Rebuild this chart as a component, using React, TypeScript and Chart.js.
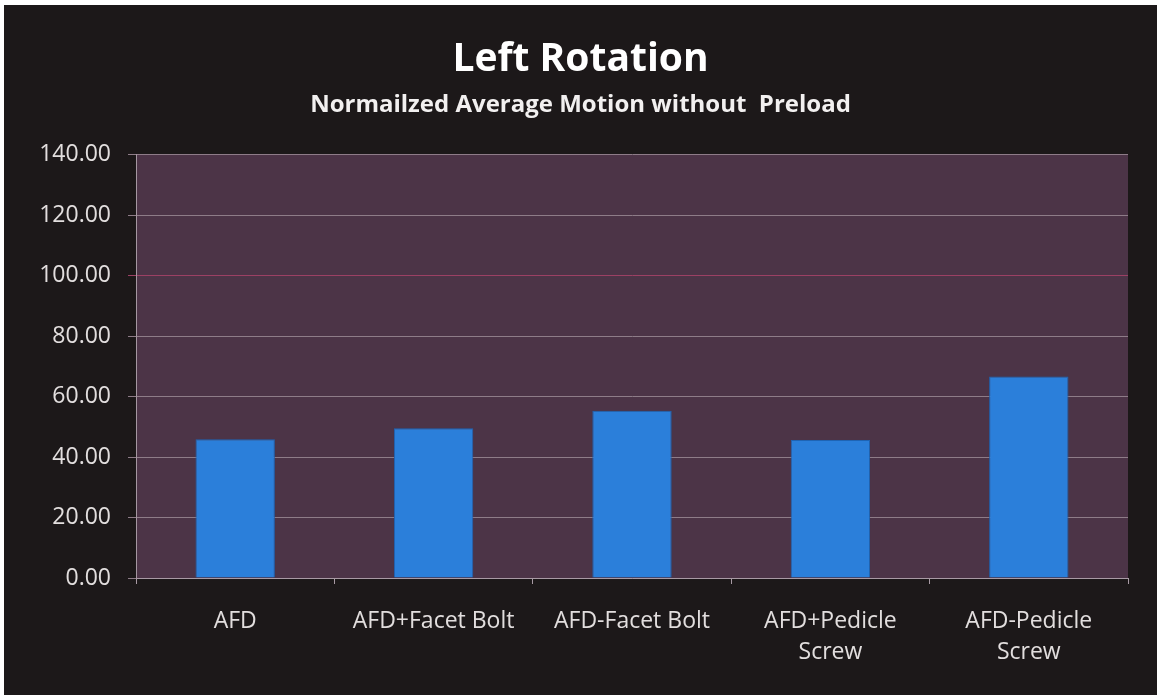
import React, { useEffect, useRef } from "react";
import { Chart, registerables } from "chart.js";

Chart.register(...registerables);

const titleText = "Left Rotation";
const subtitleText = "Normailzed Average Motion without  Preload";
const categories: (string | string[])[] = [
  "AFD",
  "AFD+Facet Bolt",
  "AFD-Facet Bolt",
  ["AFD+Pedicle", "Screw"],
  ["AFD-Pedicle", "Screw"],
];
const values = [45.9, 49.5, 55.3, 45.6, 66.6];
const yMin = 0;
const yMax = 140;
const yStep = 20;

const bgPlugin = {
  id: "bgPlugin",
  beforeDraw(chart: any) {
    const { ctx, chartArea, width, height } = chart;
    ctx.save();
    ctx.fillStyle = "#1c1819";
    ctx.fillRect(0, 0, width, height);
    ctx.fillStyle = "#4c3447";
    ctx.fillRect(chartArea.left, chartArea.top, chartArea.right - chartArea.left, chartArea.bottom - chartArea.top);
    ctx.restore();
  },
};

export default function App() {
  const ref = useRef<HTMLCanvasElement>(null);
  useEffect(() => {
    document.body.style.margin = "0";
    const chart = new Chart(ref.current!, {
      type: "bar",
      data: {
        labels: categories,
        datasets: [
          {
            data: values,
            backgroundColor: "#2b7fda",
            borderColor: "#1e64b4",
            borderWidth: 1,
            barPercentage: 0.4,
            categoryPercentage: 1,
          },
        ],
      },
      options: {
        animation: false,
        responsive: false,
        layout: { padding: { left: 29, right: 29, top: 0, bottom: 0 } },
        plugins: {
          legend: { display: false },
          tooltip: { enabled: false },
          title: {
            display: true,
            text: titleText,
            color: "#ffffff",
            font: { family: "Open Sans", size: 39, weight: "bold" },
            padding: { top: 31, bottom: 0 },
          },
          subtitle: {
            display: true,
            text: subtitleText,
            color: "#f2f0f0",
            font: { family: "Open Sans", size: 24, weight: "bold" },
            padding: { top: 8, bottom: 35 },
          },
        },
        scales: {
          x: {
            offset: true,
            grid: {
              display: true,
              drawOnChartArea: false,
              drawTicks: true,
              tickLength: 6,
              color: "#a89aa4",
              offset: true,
            },
            border: { display: true, color: "#a89aa4" },
            ticks: {
              color: "#e2dede",
              padding: 22,
              maxRotation: 0,
              autoSkip: false,
              font: { family: "Open Sans", size: 23, lineHeight: 1.35 },
            },
            afterFit: (axis: any) => {
              axis.height = 117;
            },
          },
          y: {
            min: yMin,
            max: yMax,
            grid: {
              color: (c: any) => (c.tick && c.tick.value === 100 ? "#9c4064" : "#8e7c88"),
              tickLength: 8,
              lineWidth: 1,
            },
            border: { display: true, color: "#a597a1" },
            ticks: {
              stepSize: yStep,
              color: "#e2dede",
              padding: 17,
              font: { family: "Open Sans", size: 23 },
              callback: (v: any) => Number(v).toFixed(2),
            },
            afterFit: (axis: any) => {
              axis.width = 103;
            },
          },
        },
      },
      plugins: [bgPlugin],
    });
    return () => chart.destroy();
  }, []);
  return (
    <div style={{ position: "fixed", left: 0, top: 0, width: 1161, height: 695, background: "#ffffff" }}>
      <div style={{ position: "absolute", left: 4, top: 5, width: 1153, height: 690 }}>
        <canvas ref={ref} width={1153} height={690} style={{ display: "block" }} />
      </div>
    </div>
  );
}
